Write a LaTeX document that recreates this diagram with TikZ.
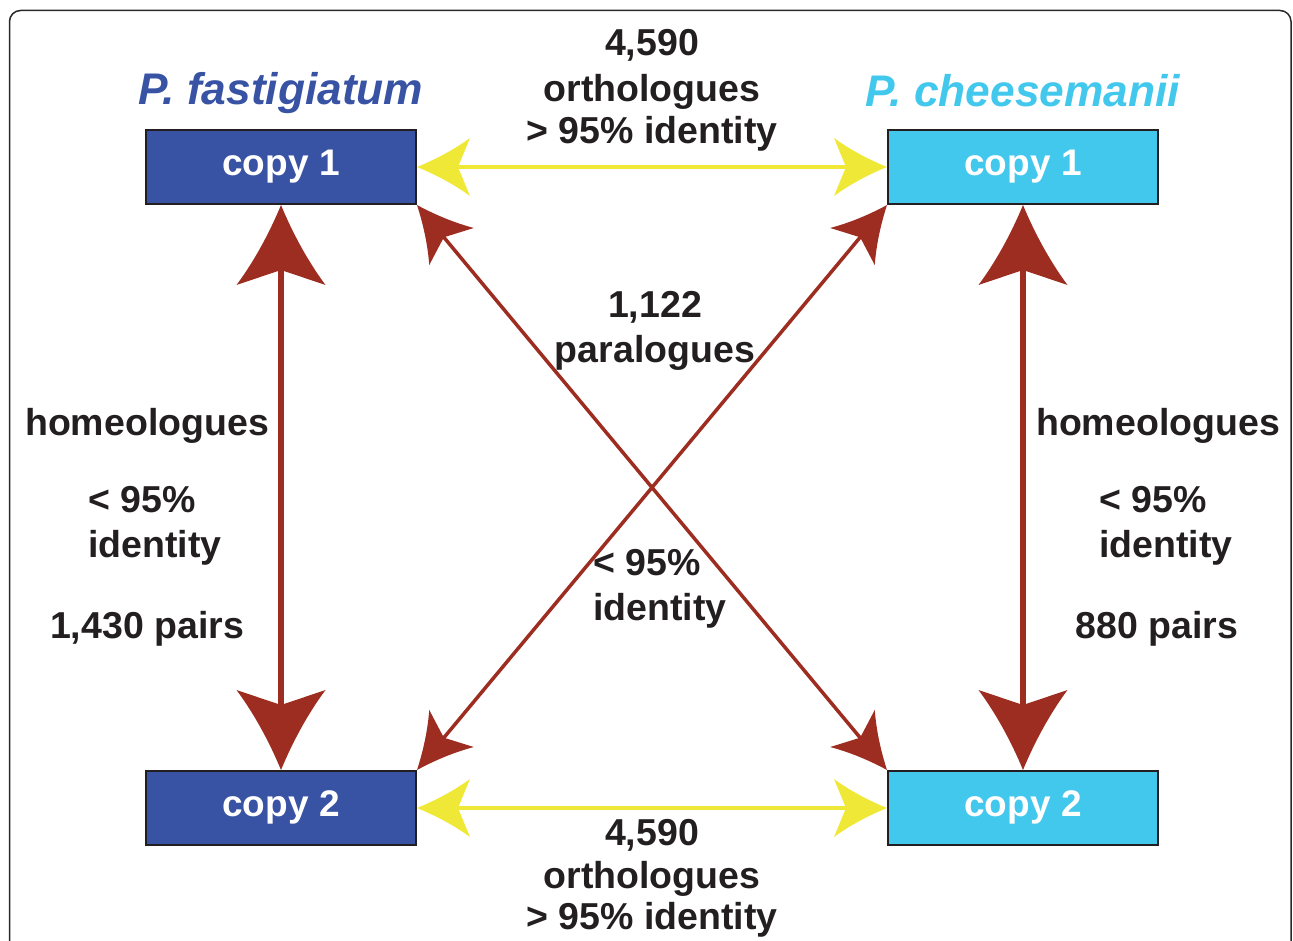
\documentclass[tikz,border=0pt]{standalone}
\usepackage{fontspec}
\setmainfont{Liberation Sans}
\usetikzlibrary{arrows.meta}
\newdimen\sweptlen
\pgfdeclarearrow{
  name = Swept,
  defaults = { length = 54pt, width = 58pt, inset = 12pt },
  setup code = {
    \sweptlen=\pgfarrowlength
    \advance\sweptlen by -\pgfarrowinset
    \advance\sweptlen by -3pt
    \pgfarrowssettipend{0pt}
    \pgfarrowssetlineend{-\sweptlen}
    \pgfarrowssetbackend{-\pgfarrowlength}
    \pgfarrowssetvisualbackend{-\pgfarrowlength}
    \pgfarrowsupperhullpoint{0pt}{0pt}
    \pgfarrowsupperhullpoint{-\pgfarrowlength}{.5\pgfarrowwidth}
    \pgfarrowssavethe\pgfarrowlength
    \pgfarrowssavethe\pgfarrowwidth
    \pgfarrowssavethe\pgfarrowinset
  },
  drawing code = {
    \sweptlen=\pgfarrowlength
    \advance\sweptlen by -\pgfarrowinset
    \pgfpathmoveto{\pgfqpoint{0pt}{0pt}}
    \pgfpathcurveto{\pgfqpoint{-.35\pgfarrowlength}{.13\pgfarrowwidth}}{\pgfqpoint{-.7\pgfarrowlength}{.3\pgfarrowwidth}}{\pgfqpoint{-\pgfarrowlength}{.5\pgfarrowwidth}}
    \pgfpathlineto{\pgfqpoint{-\sweptlen}{0pt}}
    \pgfpathlineto{\pgfqpoint{-\pgfarrowlength}{-.5\pgfarrowwidth}}
    \pgfpathcurveto{\pgfqpoint{-.7\pgfarrowlength}{-.3\pgfarrowwidth}}{\pgfqpoint{-.35\pgfarrowlength}{-.13\pgfarrowwidth}}{\pgfqpoint{0pt}{0pt}}
    \pgfpathclose
    \pgfusepathqfill
  },
  parameters = { \the\pgfarrowlength,\the\pgfarrowwidth,\the\pgfarrowinset },
}
\definecolor{boxblue}{RGB}{57,83,164}
\definecolor{boxcyan}{RGB}{66,199,237}
\definecolor{arrowred}{RGB}{156,45,32}
\definecolor{arrowyellow}{RGB}{239,232,54}
\definecolor{textdark}{RGB}{35,31,32}
\definecolor{framegray}{RGB}{40,40,40}
\tikzset{
  copybox/.style={draw=textdark, line width=2pt, minimum width=270pt, minimum height=74pt,
    inner sep=0pt, text=white, font=\fontsize{37}{40}\selectfont\bfseries,
    text height=26pt, text depth=8.5pt},
  lbl/.style={inner sep=0pt, text=textdark, font=\fontsize{37.5}{40}\selectfont\bfseries},
  title/.style={inner sep=0pt, font=\fontsize{44.3}{46}\selectfont\bfseries\itshape, anchor=base},
  orth/.style={color=arrowyellow, line width=4pt, {Swept[length=53pt,width=58pt,inset=12pt]}-{Swept[length=53pt,width=58pt,inset=12pt]}},
  homeo/.style={color=arrowred, line width=6pt, {Swept[length=80pt,width=89pt,inset=15pt]}-{Swept[length=80pt,width=89pt,inset=15pt]}},
  para/.style={color=arrowred, line width=3.5pt, {Swept[length=54pt,width=58pt,inset=12pt]}-{Swept[length=54pt,width=58pt,inset=12pt]}},
}
\begin{document}
\begin{tikzpicture}[x=1pt,y=1pt]
\useasboundingbox (0,0) rectangle (1293,-941);
\clip (0,0) rectangle (1293,-941);
\draw[framegray, line width=1.5pt, rounded corners=11pt] (9.5,-980) -- (9.5,-10.5) -- (1291,-10.5) -- (1291,-980);

% boxes
\node[copybox, fill=boxblue] (f1) at (281,-167) {copy 1};
\node[copybox, fill=boxblue] (f2) at (281,-808) {copy 2};
\node[copybox, fill=boxcyan] (c1) at (1023,-167) {copy 1};
\node[copybox, fill=boxcyan] (c2) at (1023,-808) {copy 2};

% connectors
\draw[orth] (f1.east) -- (c1.west);
\draw[orth] (f2.east) -- (c2.west);
\draw[homeo] (f1.south) -- (f2.north);
\draw[homeo] (c1.south) -- (c2.north);
\draw[para] (f1.south east) -- (c2.north west);
\draw[para] (c1.south west) -- (f2.north east);

% titles
\node[title, text=boxblue] (tf) at (281,-105) {P. fastigiatum};
\node[title, text=boxcyan] (tc) at (1023,-107) {P. cheesemanii};

% top labels
\node[lbl, anchor=base] (t1) at (652,-56) {4,590};
\node[lbl, anchor=base] (t2) at (652,-102) {orthologues};
\node[lbl, anchor=base] (t3) at (652,-144) {> 95\% identity};

% bottom labels
\node[lbl, anchor=base] (b1) at (652,-845) {4,590};
\node[lbl, anchor=base] (b2) at (652,-888) {orthologues};
\node[lbl, anchor=base] (b3) at (652,-929) {> 95\% identity};

% paralogues
\node[lbl, anchor=base] (p1) at (655,-317) {1,122};
\node[lbl, anchor=base] (p2) at (655,-362) {paralogues};
\node[lbl, anchor=base west] (p3) at (593,-575) {< 95\%};
\node[lbl, anchor=base west] (p4) at (593,-620) {identity};

% left homeologues
\node[lbl, anchor=base] (l1) at (147,-435) {homeologues};
\node[lbl, anchor=base west] (l2) at (88,-512) {< 95\%};
\node[lbl, anchor=base west] (l3) at (88,-557) {identity};
\node[lbl, anchor=base] (l4) at (147,-638) {1,430 pairs};

% right homeologues
\node[lbl, anchor=base] (r1) at (1158,-435) {homeologues};
\node[lbl, anchor=base west] (r2) at (1099,-512) {< 95\%};
\node[lbl, anchor=base west] (r3) at (1099,-557) {identity};
\node[lbl, anchor=base] (r4) at (1157,-638) {880 pairs};
\end{tikzpicture}
\end{document}
